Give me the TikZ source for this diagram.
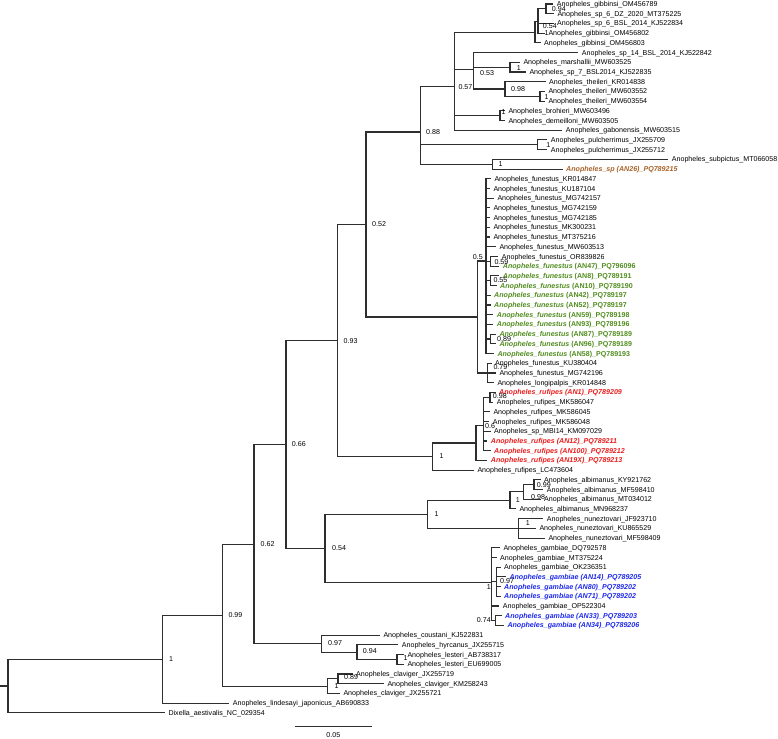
\documentclass[tikz,border=0pt]{standalone}
\usepackage{fontspec}
\setmainfont{Liberation Sans}
\definecolor{brgray}{HTML}{2E2E2E}
\definecolor{fgreen}{RGB}{80,140,30}
\definecolor{rred}{RGB}{235,28,28}
\definecolor{gblue}{RGB}{28,40,235}
\definecolor{sbrown}{RGB}{168,98,40}
\newcommand\treefont{\fontsize{7.1}{8.5}\selectfont}
\newcommand\Lf[4]{\node[leaf] (#1) at ({#3-4},{4+(#2-1)*9.71}) {#4};}
\newcommand\Sv[4]{\node[supv] (#1) at (#2,#3) {#4};}
\newcommand\Gf[2]{\textcolor{fgreen}{\textbf{\textit{Anopheles\_funestus}} \textbf{(#1)\_#2}}}
\newcommand\Rf[2]{\textcolor{rred}{\textbf{\textit{Anopheles\_rufipes (#1)\_#2}}}}
\newcommand\Bg[2]{\textcolor{gblue}{\textbf{\textit{Anopheles\_gambiae (#1)\_#2}}}}
\begin{document}
\begin{tikzpicture}[x=1pt,y=-1pt,
  leaf/.style={anchor=west,inner xsep=4pt,inner ysep=0pt,text height=5.1pt,text depth=0pt,font=\treefont,text=black},
  supv/.style={anchor=west,inner sep=0pt,text height=5.1pt,text depth=0pt,font=\treefont,text=black},
  br/.style={draw=brgray,line width=1.1pt,line cap=rect}]
\useasboundingbox (0,0) rectangle (778,738);
% internal nodes
\coordinate (rootL) at (0,685.97);
\coordinate (root) at (8,685.97);
\coordinate (nin) at (162.3,659.12);
\coordinate (n099) at (222.3,615.11);
\coordinate (ncl) at (327.7,686.13);
\coordinate (n089c) at (338,678.85);
\coordinate (n062) at (254,544.09);
\coordinate (n097) at (321.7,643.65);
\coordinate (n094) at (357,652.14);
\coordinate (nles) at (397,659.43);
\coordinate (n066) at (286,444.53);
\coordinate (n054) at (325,548.55);
\coordinate (nan) at (427.3,514.38);
\coordinate (nalb) at (510,500.43);
\coordinate (nB) at (523.3,491.93);
\coordinate (nC) at (534,484.65);
\coordinate (nnun) at (518.3,528.34);
\coordinate (ngam) at (491.7,582.72);
\coordinate (n097g) at (496.7,581.75);
\coordinate (n074) at (495.5,620.59);
\coordinate (n093) at (337.7,340.51);
\coordinate (nruf) at (432.3,456.53);
\coordinate (nr1) at (476,442.98);
\coordinate (n06) at (483.3,425.58);
\coordinate (n098r) at (490,397.26);
\coordinate (n052) at (366,224.5);
\coordinate (nfun) at (477.7,317.0);
\coordinate (n079) at (487.3,372.98);
\coordinate (n05) at (486,261.01);
\coordinate (n059) at (490.7,261.32);
\coordinate (n055) at (490.7,280.74);
\coordinate (n089f) at (490.7,338.99);
\coordinate (n088) at (420.3,131.99);
\coordinate (npul) at (537.3,144.8);
\coordinate (nsub) at (492.7,164.22);
\coordinate (n057) at (454.3,86.94);
\coordinate (ngib) at (535,32.32);
\coordinate (n054g) at (538,21.80);
\coordinate (n094g) at (546,8.86);
\coordinate (nX) at (473.3,69.54);
\coordinate (nmar) at (510,67.12);
\coordinate (n098) at (505,88.96);
\coordinate (nth) at (540,96.25);
\coordinate (nbro) at (500,115.67);
% leaves
\Lf{L1}{1}{556.7}{Anopheles\_gibbinsi\_OM456789}
\Lf{L2}{2}{557.3}{Anopheles\_sp\_6\_DZ\_2020\_MT375225}
\Lf{L3}{3}{557}{Anopheles\_sp\_6\_BSL\_2014\_KJ522834}
\Lf{L4}{4}{548.3}{Anopheles\_gibbinsi\_OM456802}
\Lf{L5}{5}{544}{Anopheles\_gibbinsi\_OM456803}
\Lf{L6}{6}{581.7}{Anopheles\_sp\_14\_BSL\_2014\_KJ522842}
\Lf{L7}{7}{523.3}{Anopheles\_marshallii\_MW603525}
\Lf{L8}{8}{529.3}{Anopheles\_sp\_7\_BSL2014\_KJ522835}
\Lf{L9}{9}{549}{Anopheles\_theileri\_KR014838}
\Lf{L10}{10}{548.3}{Anopheles\_theileri\_MW603552}
\Lf{L11}{11}{548.3}{Anopheles\_theileri\_MW603554}
\Lf{L12}{12}{508.3}{Anopheles\_brohieri\_MW603496}
\Lf{L13}{13}{508.3}{Anopheles\_demeilloni\_MW603505}
\Lf{L14}{14}{565.7}{Anopheles\_gabonensis\_MW603515}
\Lf{L15}{15}{550.7}{Anopheles\_pulcherrimus\_JX255709}
\Lf{L16}{16}{550.7}{Anopheles\_pulcherrimus\_JX255712}
\Lf{L17}{17}{671.7}{Anopheles\_subpictus\_MT066058}
\Lf{L18}{18}{566}{\textcolor{sbrown}{\textbf{\textit{Anopheles\_sp (AN26)\_PQ789215}}}}
\Lf{L19}{19}{494.3}{Anopheles\_funestus\_KR014847}
\Lf{L20}{20}{493.3}{Anopheles\_funestus\_KU187104}
\Lf{L21}{21}{497.3}{Anopheles\_funestus\_MG742157}
\Lf{L22}{22}{493.3}{Anopheles\_funestus\_MG742159}
\Lf{L23}{23}{493.3}{Anopheles\_funestus\_MG742185}
\Lf{L24}{24}{493.3}{Anopheles\_funestus\_MK300231}
\Lf{L25}{25}{493.3}{Anopheles\_funestus\_MT375216}
\Lf{L26}{26}{499.3}{Anopheles\_funestus\_MW603513}
\Lf{L27}{27}{501.7}{Anopheles\_funestus\_OR839826}
\Lf{L28}{28}{502.7}{\Gf{AN47}{PQ796096}}
\Lf{L29}{29}{502.7}{\Gf{AN8}{PQ789191}}
\Lf{L30}{30}{500}{\Gf{AN10}{PQ789190}}
\Lf{L31}{31}{494}{\Gf{AN42}{PQ789197}}
\Lf{L32}{32}{494}{\Gf{AN52}{PQ789197}}
\Lf{L33}{33}{496.7}{\Gf{AN59}{PQ789198}}
\Lf{L34}{34}{496.7}{\Gf{AN93}{PQ789196}}
\Lf{L35}{35}{499.3}{\Gf{AN87}{PQ789189}}
\Lf{L36}{36}{499.3}{\Gf{AN96}{PQ789189}}
\Lf{L37}{37}{497.3}{\Gf{AN58}{PQ789193}}
\Lf{L38}{38}{495}{Anopheles\_funestus\_KU380404}
\Lf{L39}{39}{499.3}{Anopheles\_funestus\_MG742196}
\Lf{L40}{40}{497.3}{Anopheles\_longipalpis\_KR014848}
\Lf{L41}{41}{499}{\Rf{AN1}{PQ789209}}
\Lf{L42}{42}{496.7}{Anopheles\_rufipes\_MK586047}
\Lf{L43}{43}{493.3}{Anopheles\_rufipes\_MK586045}
\Lf{L44}{44}{492.7}{Anopheles\_rufipes\_MK586048}
\Lf{L45}{45}{494}{Anopheles\_sp\_MBI14\_KM097029}
\Lf{L46}{46}{490.7}{\Rf{AN12}{PQ789211}}
\Lf{L47}{47}{494}{\Rf{AN100}{PQ789212}}
\Lf{L48}{48}{490.7}{\Rf{AN19X}{PQ789213}}
\Lf{L49}{49}{477.3}{Anopheles\_rufipes\_LC473604}
\Lf{L50}{50}{544}{Anopheles\_albimanus\_KY921762}
\Lf{L51}{51}{546.7}{Anopheles\_albimanus\_MF598410}
\Lf{L52}{52}{544}{Anopheles\_albimanus\_MT034012}
\Lf{L53}{53}{519.3}{Anopheles\_albimanus\_MN968237}
\Lf{L54}{54}{546.7}{Anopheles\_nuneztovari\_JF923710}
\Lf{L55}{55}{539.3}{Anopheles\_nuneztovari\_KU865529}
\Lf{L56}{56}{548.3}{Anopheles\_nuneztovari\_MF598409}
\Lf{L57}{57}{503.3}{Anopheles\_gambiae\_DQ792578}
\Lf{L58}{58}{500}{Anopheles\_gambiae\_MT375224}
\Lf{L59}{59}{504}{Anopheles\_gambiae\_OK236351}
\Lf{L60}{60}{509.3}{\Bg{AN14}{PQ789205}}
\Lf{L61}{61}{504}{\Bg{AN80}{PQ789202}}
\Lf{L62}{62}{504}{\Bg{AN71}{PQ789202}}
\Lf{L63}{63}{502.7}{Anopheles\_gambiae\_OP522304}
\Lf{L64}{64}{505}{\Bg{AN33}{PQ789203}}
\Lf{L65}{65}{507.3}{\Bg{AN34}{PQ789206}}
\Lf{L66}{66}{383.3}{Anopheles\_coustani\_KJ522831}
\Lf{L67}{67}{401.7}{Anopheles\_hyrcanus\_JX255715}
\Lf{L68}{68}{407.3}{Anopheles\_lesteri\_AB738317}
\Lf{L69}{69}{407.3}{Anopheles\_lesteri\_EU699005}
\Lf{L70}{70}{356}{Anopheles\_claviger\_JX255719}
\Lf{L71}{71}{387.3}{Anopheles\_claviger\_KM258243}
\Lf{L72}{72}{343.3}{Anopheles\_claviger\_JX255721}
\Lf{L73}{73}{232.7}{Anopheles\_lindesayi\_japonicus\_AB690833}
\Lf{L74}{74}{168.3}{Dixella\_aestivalis\_NC\_029354}
% branches
\draw[br] (rootL) -- (root);
\foreach \p/\c in {root/nin,root/L74,nin/n099,nin/L73,n099/n062,n099/ncl,
  ncl/n089c,ncl/L72,n089c/L70,n089c/L71,
  n062/n066,n062/n097,n097/L66,n097/n094,n094/L67,n094/nles,nles/L68,nles/L69,
  n066/n093,n066/n054,n054/nan,n054/ngam,nan/nalb,nan/nnun,
  nalb/nB,nalb/L53,nB/nC,nB/L52,nC/L50,nC/L51,nnun/L54,nnun/L55,nnun/L56,
  ngam/L57,ngam/L58,ngam/n097g,ngam/L63,ngam/n074,
  n097g/L59,n097g/L60,n097g/L61,n097g/L62,n074/L64,n074/L65,
  n093/n052,n093/nruf,nruf/nr1,nruf/L49,nr1/n06,nr1/L48,
  n06/n098r,n06/L43,n06/L44,n06/L45,n06/L46,n06/L47,n098r/L41,n098r/L42,
  n052/n088,n052/nfun,nfun/n05,nfun/n079,n079/L38,n079/L39,n079/L40,
  n05/L19,n05/L20,n05/L21,n05/L22,n05/L23,n05/L24,n05/L25,n05/L26,
  n05/n059,n05/n055,n05/L31,n05/L32,n05/L33,n05/L34,n05/n089f,n05/L37,
  n059/L27,n059/L28,n055/L29,n055/L30,n089f/L35,n089f/L36,
  n088/n057,n088/npul,n088/nsub,npul/L15,npul/L16,nsub/L17,nsub/L18,
  n057/ngib,n057/nX,n057/nbro,n057/L14,
  ngib/n054g,ngib/L5,n054g/n094g,n054g/L3,n054g/L4,n094g/L1,n094g/L2,
  nX/L6,nX/nmar,nX/n098,nmar/L7,nmar/L8,n098/L9,n098/nth,nth/L10,nth/L11,
  nbro/L12,nbro/L13}
  \draw[br] (\p) |- (\c);
% support values
\Sv{s1}{169}{658.5}{1}
\Sv{s2}{228.3}{614.5}{0.99}
\Sv{s3}{260.5}{543.5}{0.62}
\Sv{s4}{291.7}{444}{0.66}
\Sv{s5}{343.5}{340.5}{0.93}
\Sv{s6}{372}{224.3}{0.52}
\Sv{s7}{426}{131.7}{0.88}
\Sv{s8}{458.3}{87.3}{0.57}
\Sv{s9}{480}{72.7}{0.53}
\Sv{s10}{516.7}{67.7}{1}
\Sv{s11}{511}{88.5}{0.98}
\Sv{s12}{544.5}{96.5}{1}
\Sv{s13}{551.7}{8.5}{0.94}
\Sv{s14}{542.7}{26}{0.54}
\Sv{s15}{544.3}{33.3}{1}
\Sv{s16}{501.5}{112}{1}
\Sv{s17}{546.2}{144.5}{1}
\Sv{s18}{498.5}{164.3}{1}
\Sv{s19}{472.7}{257.3}{0.5}
\Sv{s20}{494.3}{261.5}{0.59}
\Sv{s21}{493.3}{280.3}{0.55}
\Sv{s22}{497}{339.3}{0.89}
\Sv{s23}{493.3}{366.7}{0.79}
\Sv{s24}{492.7}{396.3}{0.98}
\Sv{s25}{485}{426}{0.6}
\Sv{s26}{439.3}{456.3}{1}
\Sv{s27}{434.3}{514.3}{1}
\Sv{s28}{515.7}{500}{1}
\Sv{s29}{531}{496.5}{0.98}
\Sv{s30}{536.7}{484.5}{0.99}
\Sv{s31}{525.7}{523.3}{1}
\Sv{s32}{332}{547.8}{0.54}
\Sv{s33}{486.7}{586.7}{1}
\Sv{s34}{500}{581.3}{0.97}
\Sv{s35}{476.7}{620.3}{0.74}
\Sv{s36}{328}{642.7}{0.97}
\Sv{s37}{362.7}{650.7}{0.94}
\Sv{s38}{403.5}{658.3}{1}
\Sv{s39}{334.3}{686}{1}
\Sv{s40}{344}{677.3}{0.89}
% scale bar
\coordinate (sb1) at (295,726.7);
\coordinate (sb2) at (371.7,726.7);
\draw[draw=brgray,line width=0.8pt] (sb1) -- (sb2);
\node[supv,anchor=center] (sbl) at (333.3,734.5) {0.05};
\end{tikzpicture}
\end{document}
